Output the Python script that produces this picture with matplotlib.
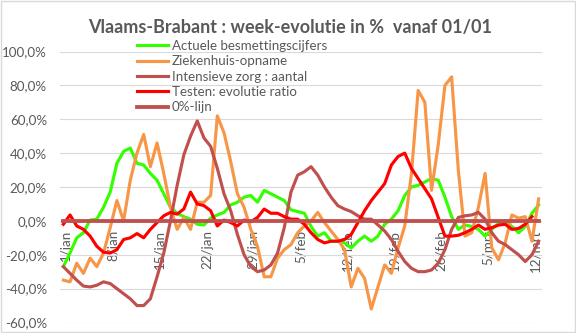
import numpy as np
import matplotlib
matplotlib.use('Agg')
import matplotlib.pyplot as plt
import matplotlib.transforms as mtransforms
from matplotlib.ticker import FuncFormatter, MultipleLocator

# week-evolutie in %, one value per day from 1/jan up to 13/mrt
tick_labels = ['1/jan', '8/jan', '15/jan', '22/jan', '29/jan', '5/feb',
               '12/feb', '19/feb', '26/feb', '5/mrt', '12/mrt']

actuele = [-27, -19, -10, -7, 0.5, 1, 8, 17, 34, 41,
           43, 34, 33, 28, 24, 16, 8, 4.5, 2.5, 1,
           -2, -2.4, 1.6, 3.5, 5, 9.4, 11, 14, 15, 11,
           18, 16, 14, 12, 6.5, 5.5, 4.5, -3.3, -9, -7,
           -12, -12, -13, -16, -12, -9, -12, -9, -2, 1,
           6, 15, 20, 21, 23, 25, 24, 14, 2.5, -5,
           -2.4, -3.3, -5, -9, -5, -1.4, -0.4, -3.3, -7, -3.3,
           4.5, 9.4]

ziekenhuis = [-35, -36, -25, -31, -22, -27, -19, -4, 12, 0,
              24, 40, 51, 32, 46, 28, 8, -5, 2, -5,
              11, 11, 15, 62, 52, 35, 16, 8, -5, -15,
              -33, -33, -22, -17, -14, -7, -3, 0, 5, -1,
              -6, -11, -17, -39, -28, -34, -52, -39, -26, -31,
              -16, -3, 28, 77, 70, 18, 45, 80, 85, 30,
              -9, -7, 8, 28, -16, -23, -13, 3.5, 1.6, 2.5,
              -12, 13]

intensieve = [-27, -31, -35, -38.5, -39, -38, -36, -37, -40, -43,
              -46, -50, -50, -46, -33, -19, 0, 21, 39, 50,
              59, 49, 44, 31, 16, 6, -8, -20, -27, -30,
              -29, -26, -19, -4, 17, 27, 29, 32, 27, 20,
              14, 9, 7, 5.5, 3, 1, 1, -2.4, -6, -11,
              -18, -24, -28, -30, -30, -29, -25, -17, -5, 2,
              3, 3.5, 5, 1, -7, -12, -14, -17, -20, -24,
              -20, -12]

testen = [-2, 3.5, -3, -5, -9, -15, -18.5, -19, -17, -11,
          -10, -7.5, -10, -5, -1, 3, 5, 4, 7, 17,
          10, 9, 6, -3, 0.5, -1, -3, 0.5, -0.5, 2,
          7, 4.5, 4.5, 2.5, 1, 1, -2, -7, -11, -13,
          -12, -12, -11, -8, -1, 6, 12, 17, 22, 33,
          38, 40, 31, 25, 19, 13, 2, -9, -9, -8.5,
          -7, -5, -2.5, -5, -4, -2.5, -2, -5, -4.5, -2,
          2.5, np.nan]

nul_lijn = [0.0] * len(actuele)

days = np.arange(len(actuele))

plt.rcParams['font.family'] = ['Lato', 'DejaVu Sans']
grey = '#595959'

fig = plt.figure(figsize=(5.76, 3.33), dpi=100)
ax = fig.add_axes([60 / 576, 1 - 322.5 / 333, 482 / 576, 271 / 333])

ax.plot(days, actuele, color='#33FF00', lw=2.25, label='Actuele besmettingscijfers')
ax.plot(days, ziekenhuis, color='#F79646', lw=2.25, label='Ziekenhuis-opname')
ax.plot(days, intensieve, color='#C0504D', lw=2.25, label='Intensieve zorg : aantal')
ax.plot(days, testen, color='#FF0000', lw=2.25, label='Testen: evolutie ratio')
ax.plot(days, nul_lijn, color='#C0504D', lw=2.75, label='0%-lijn')

ax.set_xlim(-0.5, len(days) - 0.5)
ax.set_ylim(-60, 100)
ax.yaxis.set_major_locator(MultipleLocator(20))
ax.yaxis.set_major_formatter(FuncFormatter(lambda v, p: ('%.1f%%' % v).replace('.', ',')))
ax.grid(axis='y', color='#D9D9D9', lw=0.8)
ax.set_axisbelow(True)

for s in ax.spines.values():
    s.set_visible(False)
# category labels sit on the zero line, like excel does
ax.spines['bottom'].set_position(('data', 0))

ax.set_xticks(days[::7])
ax.set_xticklabels(tick_labels, rotation=90)
ax.tick_params(axis='x', length=0, pad=6.5, labelsize=9.6, labelcolor=grey)
ax.tick_params(axis='y', length=0, pad=9.4, labelsize=9.6, labelcolor=grey)
shift = mtransforms.ScaledTranslation(3 / 100, 0, fig.dpi_scale_trans)
for lab in ax.get_xticklabels():
    lab.set_transform(lab.get_transform() + shift)

ax.legend(loc='upper left', bbox_to_anchor=(137 / 576, 1 - 40 / 333),
          bbox_transform=fig.transFigure, frameon=False, fontsize=9.6,
          labelcolor=grey, handlelength=2.3, handletextpad=0.3,
          labelspacing=0.25, borderpad=0, borderaxespad=0)

fig.text(0.503, 1 - 27.8 / 333, 'Vlaams-Brabant : week-evolutie in %  vanaf 01/01',
         ha='center', va='center', fontsize=13, fontweight='bold', color=grey)

# light chart border
fig.patches.append(plt.Rectangle((0.001, 0.002), 0.997, 0.995, transform=fig.transFigure,
                                 fill=False, edgecolor='#D9D9D9', lw=1))

fig.savefig('out.png', dpi=100)
